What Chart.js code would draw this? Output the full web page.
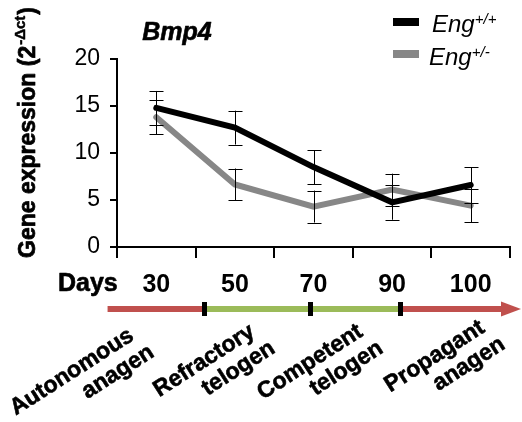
<!DOCTYPE html>
<html><head><meta charset="utf-8">
<script src="https://cdn.jsdelivr.net/npm/chart.js@4.4.0/dist/chart.umd.min.js"></script>
<style>html,body{margin:0;padding:0;background:#fff;}</style>
</head><body>
<canvas id="c" width="522" height="422"></canvas>
<script>
const days = ['30', '50', '70', '90', '100'];
const wildType = [14.8, 12.7, 8.5, 4.75, 6.6];
const wildTypeErr = [1.8, 1.8, 1.8, 1.85, 1.9];
const hetero = [13.8, 6.65, 4.3, 6.1, 4.4];
const heteroErr = [1.8, 1.7, 1.7, 1.7, 1.75];
const yTicks = [0, 5, 10, 15, 20];
const phaseLabels = [['Autonomous', 'anagen'], ['Refractory', 'telogen'], ['Competent', 'telogen'], ['Propagant', 'anagen']];
const phaseBounds = [-0.62, 0.61, 1.96, 3.11, 4.64];
const phaseColors = ['#c0504d', '#9bbb59', '#9bbb59', '#c0504d'];

const FONT = 'Liberation Sans, Arial, sans-serif';
Chart.defaults.font.family = FONT;
Chart.defaults.color = '#000';

function heavyText(ctx, txt, x, y, sw) {
  ctx.fillText(txt, x, y);
  ctx.lineWidth = sw;
  ctx.strokeStyle = ctx.fillStyle;
  ctx.lineJoin = 'round';
  ctx.strokeText(txt, x, y);
}

const deco = {
  id: 'deco',
  afterDatasetsDraw(chart) {
    const ctx = chart.ctx, x = chart.scales.x, y = chart.scales.y;
    ctx.save();
    ctx.strokeStyle = '#000';
    ctx.lineWidth = 1;
    const sets = [[wildType, wildTypeErr], [hetero, heteroErr]];
    sets.forEach(([vals, errs]) => {
      vals.forEach((v, i) => {
        const px = Math.round(x.getPixelForValue(i)) + 0.5;
        const top = y.getPixelForValue(v + errs[i]);
        const bot = y.getPixelForValue(v - errs[i]);
        ctx.beginPath();
        ctx.moveTo(px, top); ctx.lineTo(px, bot);
        ctx.moveTo(px - 7, Math.round(top) + 0.5); ctx.lineTo(px + 7, Math.round(top) + 0.5);
        ctx.moveTo(px - 7, Math.round(bot) + 0.5); ctx.lineTo(px + 7, Math.round(bot) + 0.5);
        ctx.stroke();
      });
    });
    ctx.restore();
  },
  afterDraw(chart) {
    const ctx = chart.ctx, x = chart.scales.x;
    ctx.save();
    ctx.fillStyle = '#000';
    // title
    ctx.font = 'italic bold 25px ' + FONT;
    ctx.textAlign = 'center';
    ctx.textBaseline = 'alphabetic';
    heavyText(ctx, 'Bmp4', 177, 40, 0.6);
    // legend
    const leg = [['#000', '+/+', 18, 432, 32], ['#878787', '+/-', 50, 429, 65]];
    leg.forEach(([col, sup, ry, tx, ty]) => {
      ctx.fillStyle = col;
      ctx.fillRect(393, ry, 26, 8);
      ctx.fillStyle = '#000';
      ctx.textAlign = 'left';
      ctx.font = 'italic 24px ' + FONT;
      ctx.fillText('Eng', tx, ty);
      const w = ctx.measureText('Eng').width;
      ctx.font = 'italic 15px ' + FONT;
      ctx.fillText(sup, tx + w, ty - 8);
    });
    // y title
    ctx.save();
    ctx.translate(35, 258);
    ctx.rotate(-Math.PI / 2);
    ctx.textAlign = 'left';
    ctx.font = 'bold 23px ' + FONT;
    const main = 'Gene expression (2';
    heavyText(ctx, main, 0, 0, 0.7);
    let w1 = ctx.measureText(main).width;
    ctx.font = 'bold 15px ' + FONT;
    const sup = '-\u0394ct';
    heavyText(ctx, sup, w1 + 1, -10, 0.5);
    let w2 = ctx.measureText(sup).width;
    ctx.font = 'bold 23px ' + FONT;
    heavyText(ctx, ')', w1 + w2 + 2, 0, 0.7);
    ctx.restore();
    // Days
    ctx.font = 'bold 25px ' + FONT;
    ctx.textAlign = 'left';
    heavyText(ctx, 'Days', 58, 291, 0.6);
    // timeline
    const ty = 309;
    ctx.lineWidth = 6;
    for (let i = 0; i < phaseColors.length; i++) {
      const a = x.getPixelForValue(phaseBounds[i]);
      let b = x.getPixelForValue(phaseBounds[i + 1]);
      if (i === phaseColors.length - 1) b -= 18;
      ctx.strokeStyle = phaseColors[i];
      ctx.beginPath(); ctx.moveTo(a, ty); ctx.lineTo(b, ty); ctx.stroke();
    }
    const endX = x.getPixelForValue(phaseBounds[phaseBounds.length - 1]);
    ctx.fillStyle = phaseColors[phaseColors.length - 1];
    ctx.beginPath();
    ctx.moveTo(endX - 20, ty - 7.5); ctx.lineTo(endX, ty); ctx.lineTo(endX - 20, ty + 7.5); ctx.closePath();
    ctx.fill();
    ctx.fillStyle = '#000';
    for (let i = 1; i < phaseBounds.length - 1; i++) {
      const p = x.getPixelForValue(phaseBounds[i]);
      ctx.fillRect(Math.round(p - 2.5), ty - 7, 5, 14);
    }
    // phase labels
    const anchors = [[135, 339], [256, 335], [364, 335], [486, 331]];
    const ang = -32.7 * Math.PI / 180;
    ctx.font = 'bold 23px ' + FONT;
    ctx.textAlign = 'right';
    phaseLabels.forEach((lines, i) => {
      ctx.save();
      ctx.translate(anchors[i][0], anchors[i][1]);
      ctx.rotate(ang);
      heavyText(ctx, lines[0], 0, 0, 0.6);
      heavyText(ctx, lines[1], 8, 25, 0.6);
      ctx.restore();
    });
    ctx.restore();
  }
};

new Chart(document.getElementById('c'), {
  type: 'line',
  data: {
    labels: days,
    datasets: [
      { label: 'Eng+/+', data: wildType, borderColor: '#000', borderWidth: 6, pointRadius: 0, tension: 0, fill: false, borderCapStyle: 'round' },
      { label: 'Eng+/-', data: hetero, borderColor: '#878787', borderWidth: 6, pointRadius: 0, tension: 0, fill: false, borderCapStyle: 'round' }
    ]
  },
  options: {
    responsive: false, animation: false, devicePixelRatio: 1,
    layout: { padding: { left: 40, top: 59, right: 12, bottom: 0 } },
    plugins: { legend: { display: false }, tooltip: { enabled: false }, title: { display: false } },
    scales: {
      x: {
        type: 'category', offset: true,
        grid: { offset: true, drawOnChartArea: false, color: '#000', lineWidth: 2, tickLength: 11 },
        border: { color: '#000', width: 2 },
        ticks: { color: '#000', font: { size: 25, weight: 'bold' }, padding: 12, maxRotation: 0, autoSkip: false },
        afterFit(s) { s.height = 175; }
      },
      y: {
        min: 0, max: 20,
        afterBuildTicks(s) { s.ticks = yTicks.map(v => ({ value: v })); },
        ticks: { color: '#000', font: { size: 23 }, padding: 10 },
        grid: { drawOnChartArea: false, color: '#000', lineWidth: 2, tickLength: 7 },
        border: { color: '#000', width: 2 },
        afterFit(s) { s.width = 77; }
      }
    }
  },
  plugins: [deco]
});
</script>
</body></html>
